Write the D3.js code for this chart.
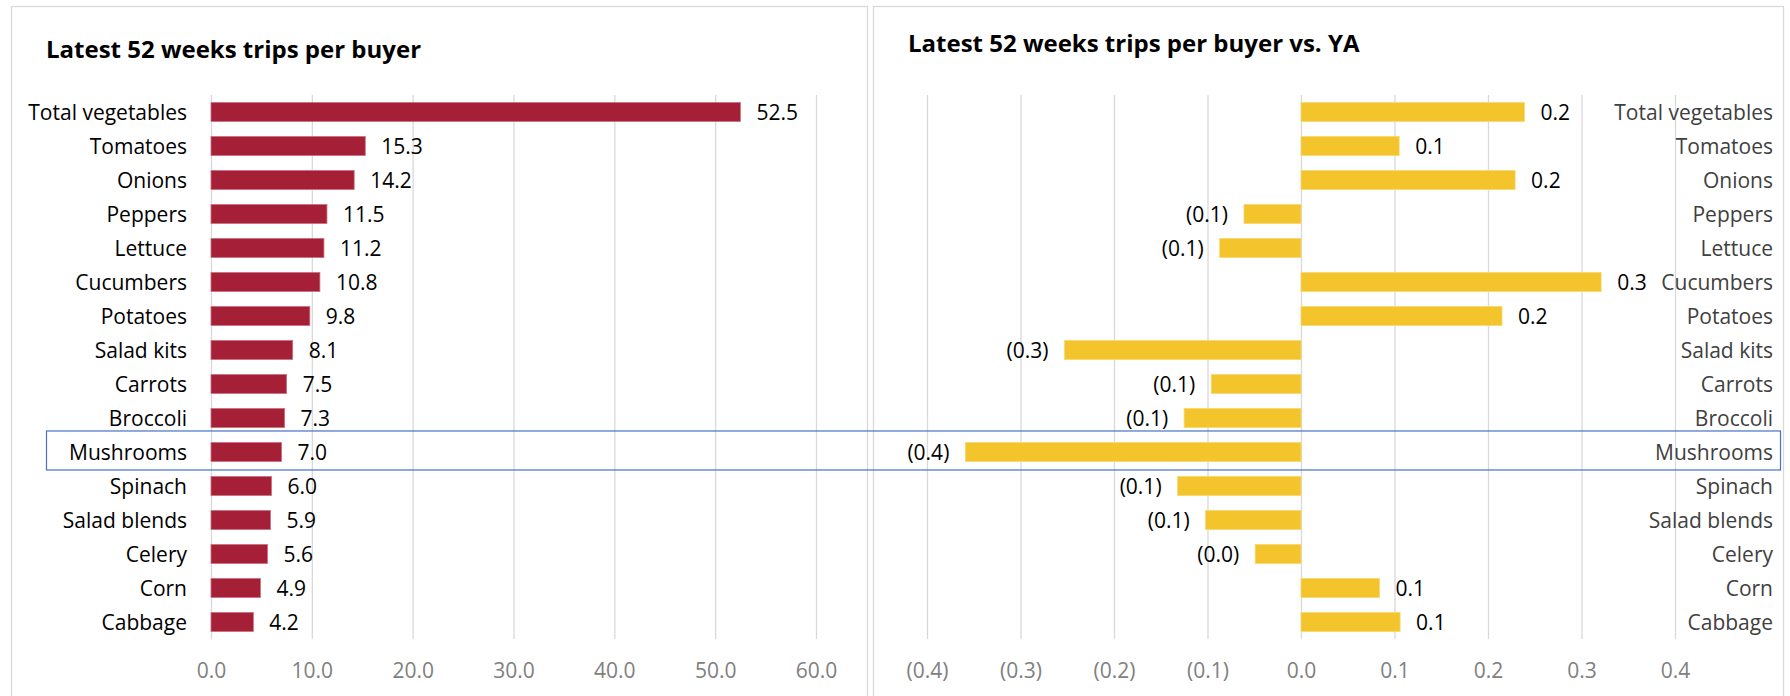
<!DOCTYPE html>
<html>
<head>
<meta charset="utf-8">
<script src="https://cdn.jsdelivr.net/npm/d3@7"></script>
<style>
  body{margin:0;background:#fff;}
  svg{display:block;font-family:"Open Sans",sans-serif;}
</style>
</head>
<body>
<svg id="chart" width="1790" height="696"></svg>
<script>
// data
const categories = ["Total vegetables","Tomatoes","Onions","Peppers","Lettuce","Cucumbers","Potatoes","Salad kits","Carrots","Broccoli","Mushrooms","Spinach","Salad blends","Celery","Corn","Cabbage"];
const trips = [52.5,15.3,14.2,11.5,11.2,10.8,9.8,8.1,7.5,7.3,7.0,6.0,5.9,5.6,4.9,4.2];
const tripsVsYA = [0.239,0.105,0.229,-0.061,-0.087,0.321,0.215,-0.253,-0.096,-0.125,-0.359,-0.132,-0.102,-0.049,0.084,0.106];
const leftTicks = [0,10,20,30,40,50,60];
const rightTicks = [-0.4,-0.3,-0.2,-0.1,0,0.1,0.2,0.3,0.4];
const highlight = "Mushrooms";

const svg = d3.select('#chart');
const fmt = d3.format('.1f');
const fmtNeg = v => v < 0 ? '(' + fmt(-v) + ')' : fmt(v);

const plotTop = 95, plotBottom = 639;

let yScale = d3.scaleBand(categories, [plotTop, plotBottom])
  .paddingInner(0.44)
  .paddingOuter(0.22);

// panel frames
svg.append('rect').attr('x',11.5).attr('y',6.5).attr('width',856).attr('height',720)
  .attr('fill','none').attr('stroke','#d9d9d9').attr('stroke-width',1.3);
svg.append('rect').attr('x',873.5).attr('y',6.5).attr('width',910).attr('height',720)
  .attr('fill','none').attr('stroke','#d9d9d9').attr('stroke-width',1.3);

// ---------- left chart ----------
let xLeft = d3.scaleLinear([0, 60], [211, 816]);

svg.append('text').attr('x',46).attr('y',57.5)
  .attr('font-size',24).attr('font-weight','bold').attr('fill','#000')
  .text('Latest 52 weeks trips per buyer');

let gl = svg.append('g');
gl.append('g').attr('transform', `translate(0,${plotBottom})`)
  .call(d3.axisBottom(xLeft).tickValues(leftTicks).tickFormat(fmt).tickSize(-(plotBottom-plotTop)).tickPadding(24))
  .call(g => g.select('.domain').remove())
  .call(g => g.selectAll('.tick line').attr('stroke','#d9d9d9').attr('stroke-width',1.3))
  .call(g => g.selectAll('.tick text').attr('fill','#808080').attr('font-size',21).attr('font-family','Open Sans'));

gl.selectAll('rect.bar').data(categories).join('rect')
  .attr('class','bar')
  .attr('x', xLeft(0))
  .attr('y', d => yScale(d))
  .attr('width', (d,i) => xLeft(trips[i]) - xLeft(0))
  .attr('height', yScale.bandwidth())
  .attr('fill','#a51f37')
  .attr('stroke','#c9707f').attr('stroke-width',0.8);

gl.selectAll('text.val').data(categories).join('text')
  .attr('class','val')
  .attr('x', (d,i) => xLeft(trips[i]) + 16)
  .attr('y', d => yScale(d) + yScale.bandwidth()/2)
  .attr('dy','0.36em')
  .attr('font-size',21).attr('fill','#000')
  .text((d,i) => fmt(trips[i]));

gl.selectAll('text.cat').data(categories).join('text')
  .attr('class','cat')
  .attr('x', 187)
  .attr('y', d => yScale(d) + yScale.bandwidth()/2)
  .attr('dy','0.36em')
  .attr('text-anchor','end')
  .attr('font-size',21).attr('fill','#000')
  .text(d => d);

// ---------- right chart ----------
let xRight = d3.scaleLinear([-0.4, 0.4], [927, 1675]);

svg.append('text').attr('x',908).attr('y',52)
  .attr('font-size',24).attr('font-weight','bold').attr('fill','#000')
  .text('Latest 52 weeks trips per buyer vs. YA');

let gr = svg.append('g');
gr.append('g').attr('transform', `translate(0,${plotBottom})`)
  .call(d3.axisBottom(xRight).tickValues(rightTicks).tickFormat(fmtNeg).tickSize(-(plotBottom-plotTop)).tickPadding(24))
  .call(g => g.select('.domain').remove())
  .call(g => g.selectAll('.tick line').attr('stroke','#d9d9d9').attr('stroke-width',1.3))
  .call(g => g.selectAll('.tick text').attr('fill','#808080').attr('font-size',21).attr('font-family','Open Sans'));

gr.selectAll('rect.bar').data(categories).join('rect')
  .attr('class','bar')
  .attr('x', (d,i) => xRight(Math.min(0, tripsVsYA[i])))
  .attr('y', d => yScale(d))
  .attr('width', (d,i) => Math.abs(xRight(tripsVsYA[i]) - xRight(0)))
  .attr('height', yScale.bandwidth())
  .attr('fill','#f3c42c')
  .attr('stroke','#f7d873').attr('stroke-width',0.8);

gr.selectAll('text.val').data(categories).join('text')
  .attr('class','val')
  .attr('x', (d,i) => tripsVsYA[i] < 0 ? xRight(tripsVsYA[i]) - 16 : xRight(tripsVsYA[i]) + 16)
  .attr('y', d => yScale(d) + yScale.bandwidth()/2)
  .attr('dy','0.36em')
  .attr('text-anchor', (d,i) => tripsVsYA[i] < 0 ? 'end' : 'start')
  .attr('font-size',21).attr('fill','#000')
  .text((d,i) => fmtNeg(tripsVsYA[i]));

gr.selectAll('text.cat').data(categories).join('text')
  .attr('class','cat')
  .attr('x', 1773)
  .attr('y', d => yScale(d) + yScale.bandwidth()/2)
  .attr('dy','0.36em')
  .attr('text-anchor','end')
  .attr('font-size',21).attr('fill','#404040')
  .text(d => d);

// highlight box round the Mushrooms row
svg.append('rect')
  .attr('x',46.5)
  .attr('y', yScale(highlight) - 11.5)
  .attr('width',1734)
  .attr('height',39)
  .attr('fill','none')
  .attr('stroke','#4472c4').attr('stroke-width',1.2);
</script>
</body>
</html>
